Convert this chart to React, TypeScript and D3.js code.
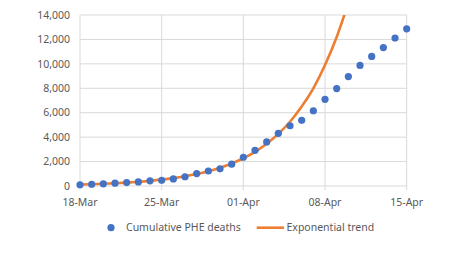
import React from "react";
import * as d3 from "d3";

const dates: string[] = [
  "2020-03-18","2020-03-19","2020-03-20","2020-03-21","2020-03-22","2020-03-23","2020-03-24",
  "2020-03-25","2020-03-26","2020-03-27","2020-03-28","2020-03-29","2020-03-30","2020-03-31",
  "2020-04-01","2020-04-02","2020-04-03","2020-04-04","2020-04-05","2020-04-06","2020-04-07",
  "2020-04-08","2020-04-09","2020-04-10","2020-04-11","2020-04-12","2020-04-13","2020-04-14",
  "2020-04-15",
];
const deaths: number[] = [
  104, 144, 177, 233, 281, 335, 422,
  463, 578, 759, 1019, 1228, 1408, 1789,
  2352, 2921, 3605, 4313, 4934, 5373, 6159,
  7097, 7978, 8958, 9875, 10612, 11329, 12107,
  12868,
];
const trendDates: string[] = dates.slice(0, 24);
const trend: number[] = [
  120, 148, 183, 225, 278, 343, 423,
  522, 644, 795, 980, 1210, 1490, 1840,
  2270, 2800, 3460, 4270, 5260, 6500, 8000,
  9900, 12200, 15000,
];
const yTicks: number[] = [0, 2000, 4000, 6000, 8000, 10000, 12000, 14000];
const xTickDates: string[] = ["2020-03-18", "2020-03-25", "2020-04-01", "2020-04-08", "2020-04-15"];
const xTickLabels: string[] = ["18-Mar", "25-Mar", "01-Apr", "08-Apr", "15-Apr"];
const seriesNames: string[] = ["Cumulative PHE deaths", "Exponential trend"];

const W = 466, H = 276;
const left = 80, right = 406.7, top = 15, bottom = 186;
const font = "'Noto Sans', 'Open Sans', sans-serif";
const textColor = "#595959";
const blue = "#4472C4";
const orange = "#ED7D31";
const grid = "#D9D9D9";

export default function App() {
  const parse = (s: string) => new Date(s + "T00:00:00Z");
  const x = d3.scaleUtc().domain([parse(dates[0]), parse(dates[dates.length - 1])]).range([left, right]);
  const y = d3.scaleLinear().domain([0, 14000]).range([bottom, top]);
  const line = d3
    .line<number>()
    .x((_, i) => x(parse(trendDates[i])))
    .y((d) => y(d))
    .curve(d3.curveMonotoneX);

  return (
    <svg width={W} height={H} style={{ position: "absolute", left: 0, top: 0, background: "#fff" }}>
      <defs>
        <clipPath id="plot">
          <rect x={left - 5} y={top} width={right - left + 10} height={bottom - top + 5} />
        </clipPath>
      </defs>
      {yTicks.map((t) => (
        <g key={t}>
          <line x1={left} x2={right} y1={y(t)} y2={y(t)} stroke={grid} strokeWidth={1} />
          <text x={70} y={y(t)} dy="0.35em" textAnchor="end" fontSize={10.5} fontFamily={font} fill={textColor}>
            {d3.format(",")(t)}
          </text>
        </g>
      ))}
      {xTickDates.map((d, i) => (
        <g key={d}>
          <line x1={x(parse(d))} x2={x(parse(d))} y1={top} y2={bottom + 4} stroke={grid} strokeWidth={1} />
          <text x={x(parse(d))} y={206} textAnchor="middle" fontSize={10.5} fontFamily={font} fill={textColor}>
            {xTickLabels[i]}
          </text>
        </g>
      ))}
      <g clipPath="url(#plot)">
        <path d={line(trend) || ""} fill="none" stroke={orange} strokeWidth={2.6} />
      </g>
      {deaths.map((v, i) => (
        <circle key={i} cx={x(parse(dates[i]))} cy={y(v)} r={3.6} fill={blue} />
      ))}
      <g fontFamily={font} fontSize={10.5} fill={textColor}>
        <circle cx={111} cy={227.7} r={3.6} fill={blue} />
        <text x={126} y={227.7} dy="0.35em">{seriesNames[0]}</text>
        <line x1={256.7} x2={284} y1={227.7} y2={227.7} stroke={orange} strokeWidth={2.6} />
        <text x={286.5} y={227.7} dy="0.35em">{seriesNames[1]}</text>
      </g>
    </svg>
  );
}
